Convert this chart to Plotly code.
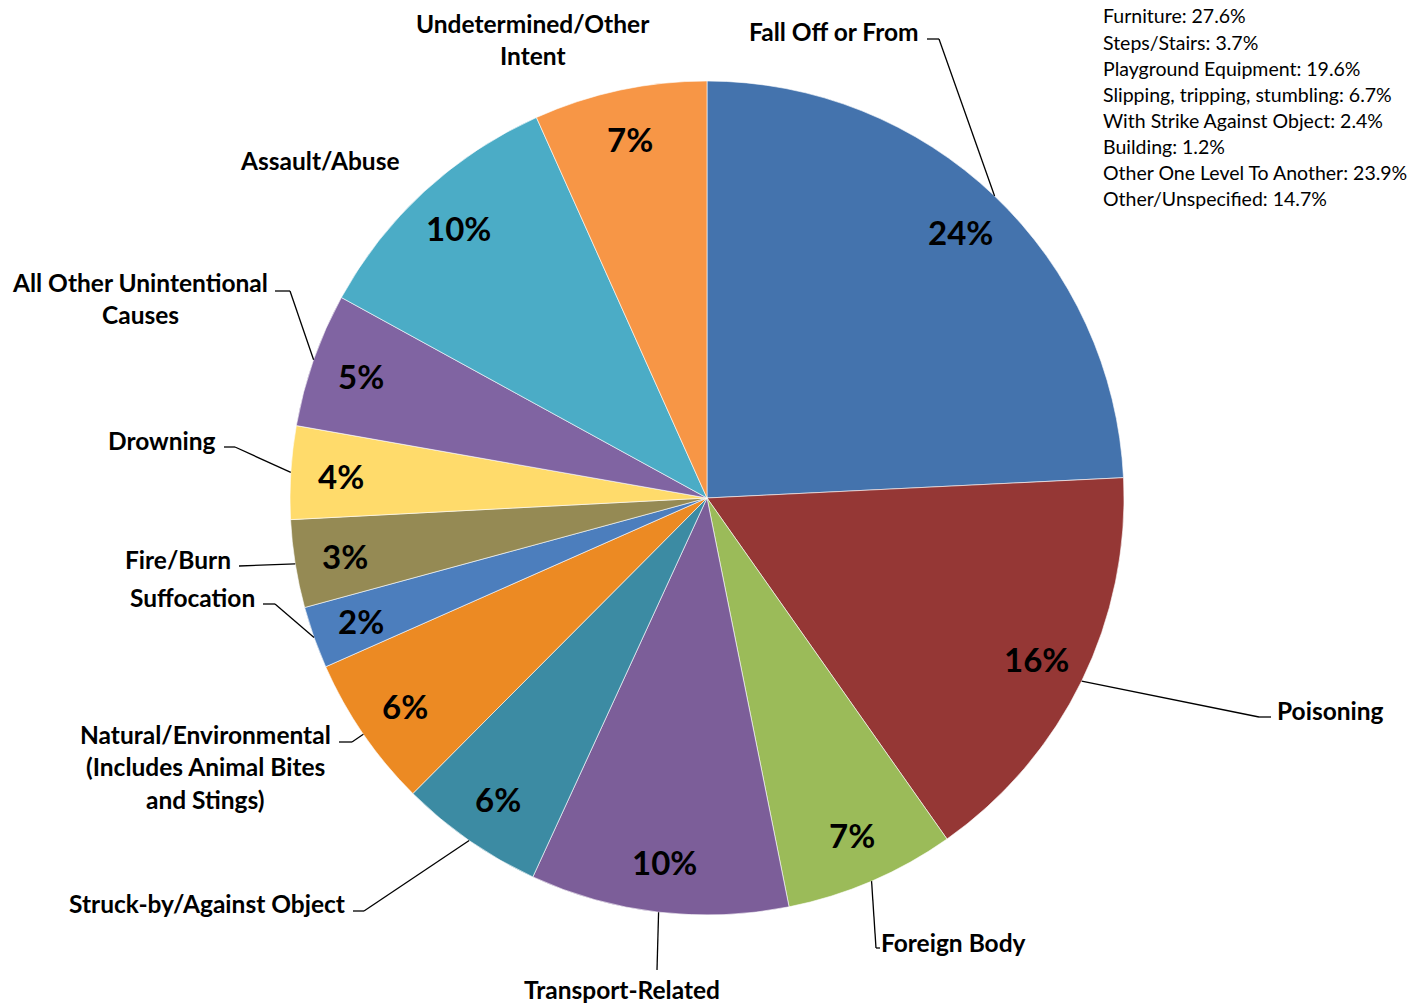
import math
import plotly.graph_objects as go

# ---------------- data ----------------
categories = [
    "Fall Off or From", "Poisoning", "Foreign Body", "Transport-Related",
    "Struck-by/Against Object", "Natural/Environmental (Includes Animal Bites and Stings)",
    "Suffocation", "Fire/Burn", "Drowning", "All Other Unintentional Causes",
    "Assault/Abuse", "Undetermined/Other Intent",
]
values = [24.2, 16.0, 6.6, 10.0, 5.6, 5.9, 2.4, 3.4, 3.6, 5.2, 10.3, 6.7]
pct_labels = ["24%", "16%", "7%", "10%", "6%", "6%", "2%", "3%", "4%", "5%", "10%", "7%"]

fall_sub_names = [
    "Furniture", "Steps/Stairs", "Playground Equipment", "Slipping, tripping, stumbling",
    "With Strike Against Object", "Building", "Other One Level To Another", "Other/Unspecified",
]
fall_sub_values = [27.6, 3.7, 19.6, 6.7, 2.4, 1.2, 23.9, 14.7]

# ---------------- styles ----------------
colors = ["#4473AD", "#953735", "#9BBB59", "#7C5E99", "#3C8BA3", "#EC8A23",
          "#4C7EBD", "#958A54", "#FFDB6B", "#8064A2", "#4BACC6", "#F79646"]

W, H = 1426, 1006
CX, CY, R = 707, 498, 417
FONT = "Lato"

def px(x):
    return x / W

def py(y):
    return 1 - y / H

fig = go.Figure(go.Pie(
    labels=categories, values=values, sort=False, direction="clockwise", rotation=0,
    marker=dict(colors=colors, line=dict(color="white", width=0.6)),
    textinfo="none", hoverinfo="label+percent", showlegend=False,
    domain=dict(x=[px(CX - R), px(CX + R)], y=[py(CY + R), py(CY - R)]),
))

total = sum(values)
mids = []
acc = 0
for v in values:
    mids.append((acc + v / 2) / total * 2 * math.pi)
    acc += v

def polar(ang, r):
    return CX + r * math.sin(ang), CY - r * math.cos(ang)

annotations = []
shapes = []

# percentage labels inside slices
for i, t in enumerate(pct_labels):
    x, y = polar(mids[i], 0.88 * R)
    annotations.append(dict(
        x=px(x), y=py(y), xref="paper", yref="paper", text=t, showarrow=False,
        xanchor="center", yanchor="middle",
        font=dict(family=FONT, size=33, color="black", weight="bold"),
    ))

# category labels: (lines, x, y of first line, xanchor)
label_pos = [
    (["Fall Off or From"], 921, 31, "right"),
    (["Poisoning"], 1275, 710, "left"),
    (["Foreign Body"], 879, 942, "left"),
    (["Transport-Related"], 622, 989, "center"),
    (["Struck-by/Against Object"], 347, 903, "right"),
    (["Natural/Environmental", "(Includes Animal Bites", "and Stings)"], 205, 734, "center"),
    (["Suffocation"], 257, 597, "right"),
    (["Fire/Burn"], 233, 559, "right"),
    (["Drowning"], 218, 440, "right"),
    (["All Other Unintentional", "Causes"], 140, 282, "center"),
    (["Assault/Abuse"], 320, 160, "center"),
    (["Undetermined/Other", "Intent"], 533, 23, "center"),
]
LINE_SP = 32.5
for lines, x, y, xa in label_pos:
    for k, ln in enumerate(lines):
        annotations.append(dict(
            x=px(x), y=py(y + k * LINE_SP), xref="paper", yref="paper", text=ln,
            showarrow=False, xanchor=xa, yanchor="middle",
            font=dict(family=FONT, size=24.5, color="black", weight="bold"),
        ))

# leader lines: index -> list of waypoints after slice edge
leader_pts = {
    0: [(939, 39), (927, 39)],
    1: [(1259, 717), (1271, 717)],
    2: [(876, 948), (880, 948)],
    3: [(657, 970)],
    4: [(364, 911), (353, 911)],
    5: [(352, 742), (339, 742)],
    6: [(275, 604), (263, 604)],
    7: [(239, 566)],
    8: [(235, 447), (224, 447)],
    9: [(290, 291), (275, 291)],
}
for i, pts in leader_pts.items():
    start = polar(mids[i], R)
    seq = [start] + pts
    for (x0, y0), (x1, y1) in zip(seq[:-1], seq[1:]):
        shapes.append(dict(type="line", xref="paper", yref="paper",
                           x0=px(x0), y0=py(y0), x1=px(x1), y1=py(y1),
                           line=dict(color="black", width=1.3)))

# fall sub-breakdown text block
for k, (n, v) in enumerate(zip(fall_sub_names, fall_sub_values)):
    annotations.append(dict(
        x=px(1101), y=py(16 + k * 26.1), xref="paper", yref="paper",
        text=f"{n}: {v:.1f}%", showarrow=False, xanchor="left", yanchor="middle",
        font=dict(family=FONT, size=19.5, color="black"),
    ))

fig.update_layout(
    width=W, height=H, margin=dict(l=0, r=0, t=0, b=0),
    paper_bgcolor="white", plot_bgcolor="white",
    annotations=annotations, shapes=shapes,
)

fig.write_html("out.html")
